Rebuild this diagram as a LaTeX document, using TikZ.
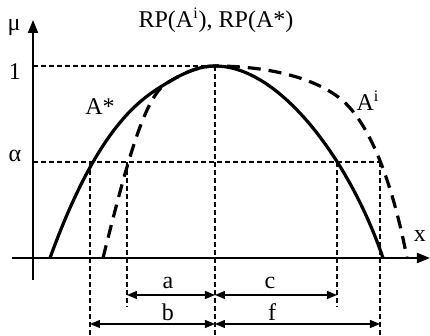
\documentclass[tikz,border=0pt]{standalone}
\usepackage{fontspec}
\setmainfont{Liberation Serif}
\usetikzlibrary{arrows.meta}
\tikzset{
    % axes and curves
    axis/.style={line width=1pt, -{Triangle[length=6.5pt, width=5pt]}},
    curvestar/.style={line width=1.6pt},
    curvei/.style={line width=1.6pt, dash pattern=on 6.5pt off 4pt},
    % guide lines
    guide/.style={line width=0.6pt, dash pattern=on 2.5pt off 1.5pt},
    % dimension arrows
    dimarrow/.style={line width=0.6pt, {Triangle[length=5pt, width=4pt]}-{Triangle[length=5pt, width=4pt]}},
    lbl/.style={inner sep=0pt},
}
\begin{document}
\begin{tikzpicture}[x=0.5pt, y=0.5pt, font=\fontsize{12}{14}\selectfont]
\useasboundingbox (0,0) rectangle (430,336);

% axes
\coordinate (xs) at (12,78);
\coordinate (xe) at (430,78);
\coordinate (ys) at (33,56);
\coordinate (ye) at (33,316);
\draw[axis] (xs) -- (xe);
\draw[axis] (ys) -- (ye);

% key points
\coordinate (peak) at (215,270);
\coordinate (one) at (33,270);
\coordinate (alf) at (33,174);
\coordinate (la) at (90,174);
\coordinate (li) at (127,174);
\coordinate (ra) at (337,174);
\coordinate (ri) at (380,174);
\coordinate (join) at (167,253);

% levels
\draw[guide] (one) -- (peak);
\draw[guide] (alf) -- (ri);

% vertical guides
\coordinate (la0) at (90,0);
\coordinate (li0) at (127,29);
\coordinate (pk0) at (215,0);
\coordinate (ra0) at (337,29);
\coordinate (ri0) at (380,0);
\draw[guide] (la) -- (la0);
\draw[guide] (li) -- (li0);
\draw[guide] (peak) -- (pk0);
\draw[guide] (ra) -- (ra0);
\draw[guide] (ri) -- (ri0);

% curve A*
\draw[curvestar] (50,78) .. controls (98,210) and (140,237) .. (join)
    .. controls (185,264) and (200,270) .. (peak)
    .. controls (280,270) and (350,175) .. (383,78);

% curve A^i
\draw[curvei] (103,78) .. controls (128,178) and (145,240) .. (join)
    .. controls (185,264) and (200,270) .. (peak)
    .. controls (260,270) and (312,261) .. (342,236)
    .. controls (378,205) and (398,125) .. (407,78);

% dimensions
\coordinate (a1) at (127,41);
\coordinate (a2) at (215,41);
\coordinate (c2) at (337,41);
\coordinate (b1) at (90,12);
\coordinate (b2) at (215,12);
\coordinate (f2) at (380,12);
\draw[dimarrow] (a1) -- (a2);
\draw[dimarrow] (a2) -- (c2);
\draw[dimarrow] (b1) -- (b2);
\draw[dimarrow] (b2) -- (f2);

% labels
\node[lbl] (title) at (216,316) {RP(A$^{\mathrm{i}}$), RP(A*)};
\node[lbl] (mu) at (14,308) {μ};
\node[lbl] (lone) at (15,264) {1};
\node[lbl] (lalf) at (15,180) {α};
\node[lbl] (lstar) at (100,229) {A*};
\node[lbl] (lai) at (368,235) {A$^{\mathrm{i}}$};
\node[lbl] (lx) at (420,100) {x};
\node[lbl] (la) at (168,53) {a};
\node[lbl] (lc) at (270,53) {c};
\node[lbl] (lb) at (168,24) {b};
\node[lbl] (lf) at (272,24) {f};
\end{tikzpicture}
\end{document}
